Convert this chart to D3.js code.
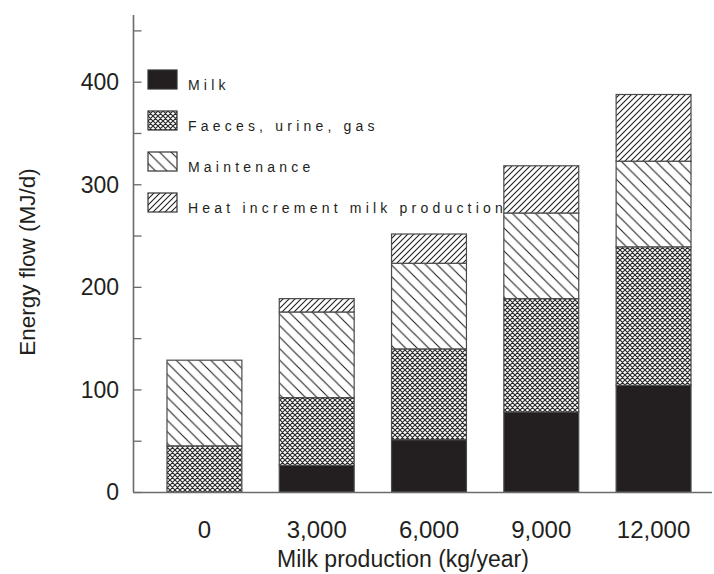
<!DOCTYPE html>
<html>
<head>
<meta charset="utf-8">
<script src="https://cdn.jsdelivr.net/npm/d3@7"></script>
<style>
  html, body { margin: 0; padding: 0; background: #fff; }
  svg { display: block; font-family: "Liberation Sans", Arial, sans-serif; }
</style>
</head>
<body>
<svg id="chart" width="714" height="574"></svg>
<script>
// Energy partition of a dairy cow by annual milk yield (MJ/d)
const categories = ["0", "3,000", "6,000", "9,000", "12,000"];
const milk        = [0, 26, 51, 78, 104];
const faeces      = [45, 66, 88.5, 110.5, 135];
const maintenance = [83.5, 83.5, 83.5, 83.5, 83.5];
const heat        = [0, 13, 28.5, 46, 65];
const yTicks      = [0, 100, 200, 300, 400];

const seriesNames = ["Milk", "Faeces, urine, gas", "Maintenance", "Heat increment milk production"];
const seriesKeys  = ["milk", "faeces", "maintenance", "heat"];
const seriesFill  = ["#231f20", "url(#pCross)", "url(#pBack)", "url(#pFwd)"];

const rows = categories.map((c, i) => ({
  cat: c, milk: milk[i], faeces: faeces[i], maintenance: maintenance[i], heat: heat[i]
}));

const svg = d3.select("#chart");
const axisColor = "#6b6b6b";
const inkColor = "#231f20";

// hatch patterns
const defs = svg.append("defs");
function hatch(id, P, dir, sw) {
  const p = defs.append("pattern").attr("id", id)
    .attr("patternUnits", "userSpaceOnUse").attr("width", P).attr("height", P);
  p.append("rect").attr("width", P).attr("height", P).attr("fill", "#fff");
  const d = dir === "back"
    ? `M0,0L${P},${P}M${-P/4},${3*P/4}L${P/4},${5*P/4}M${3*P/4},${-P/4}L${5*P/4},${P/4}`
    : `M0,${P}L${P},0M${-P/4},${P/4}L${P/4},${-P/4}M${3*P/4},${5*P/4}L${5*P/4},${3*P/4}`;
  p.append("path").attr("d", d).attr("stroke", inkColor).attr("stroke-width", sw).attr("fill", "none");
}
hatch("pBack", 11.5, "back", 1.1);
hatch("pFwd", 6, "fwd", 1.1);
(function () {
  const P = 5;
  const p = defs.append("pattern").attr("id", "pCross")
    .attr("patternUnits", "userSpaceOnUse").attr("width", P).attr("height", P);
  p.append("rect").attr("width", P).attr("height", P).attr("fill", "#fff");
  p.append("path")
    .attr("d", `M0,0L${P},${P}M${P},0L0,${P}M${-P/2},${P/2}L${P/2},${3*P/2}M${P/2},${-P/2}L${3*P/2},${P/2}M${P/2},${-P/2}L${-P/2},${P/2}M${3*P/2},${P/2}L${P/2},${3*P/2}`)
    .attr("stroke", "#2a2a2a").attr("stroke-width", 1.2).attr("fill", "none");
})();

// scales
const x = d3.scaleBand().domain(categories).range([133.3, 724.7])
  .paddingInner(0.333).paddingOuter(0.3);
const y = d3.scaleLinear().domain([0, 465]).range([492, 15]);

// stacked bars
const stack = d3.stack().keys(seriesKeys)(rows);
const layers = svg.append("g").selectAll("g").data(stack).join("g")
  .attr("fill", (d, i) => seriesFill[i]);
layers.selectAll("rect")
  .data(d => d.filter(s => s[1] - s[0] > 0))
  .join("rect")
  .attr("x", d => x(d.data.cat))
  .attr("width", x.bandwidth())
  .attr("y", d => y(d[1]))
  .attr("height", d => y(d[0]) - y(d[1]))
  .attr("stroke", "#4a4a4a")
  .attr("stroke-width", 1.2);

// y axis with inward ticks every 50
const yAxis = d3.axisRight(y).tickValues(d3.range(0, 451, 50)).tickSize(8).tickFormat("");
const gy = svg.append("g").attr("transform", "translate(133.5,0)").call(yAxis);
gy.select(".domain").remove();
gy.selectAll(".tick line").attr("stroke", axisColor).attr("stroke-width", 1.3);
svg.append("line").attr("x1", 133.5).attr("x2", 133.5).attr("y1", 15).attr("y2", 492)
  .attr("stroke", axisColor).attr("stroke-width", 1.6);

svg.append("g").selectAll("text").data(yTicks).join("text")
  .attr("x", 119).attr("y", d => y(d)).attr("dy", "0.36em")
  .attr("text-anchor", "end").attr("font-size", 23).attr("fill", inkColor)
  .text(d => d);

// x axis
svg.append("line").attr("x1", 133).attr("x2", 712).attr("y1", 492.5).attr("y2", 492.5)
  .attr("stroke", axisColor).attr("stroke-width", 1.6);
const xAxis = d3.axisBottom(x).tickSize(0).tickPadding(0);
const gx = svg.append("g").attr("transform", "translate(0,538)").call(xAxis);
gx.select(".domain").remove();
gx.selectAll(".tick text").attr("dy", 0).attr("font-size", 24)
  .attr("font-family", "Liberation Sans, Arial, sans-serif").attr("fill", inkColor);

// axis titles
svg.append("text").attr("x", 403).attr("y", 567).attr("text-anchor", "middle")
  .attr("font-size", 23).attr("fill", inkColor).text("Milk production (kg/year)");
svg.append("text").attr("transform", "translate(35,262) rotate(-90)")
  .attr("text-anchor", "middle").attr("font-size", 22.5).attr("fill", inkColor)
  .text("Energy flow (MJ/d)");

// legend
const legend = svg.append("g").selectAll("g").data(seriesNames).join("g")
  .attr("transform", (d, i) => `translate(148,${[70, 111, 152, 193][i]})`);
legend.append("rect").attr("width", 29).attr("height", 19)
  .attr("fill", (d, i) => seriesFill[i]).attr("stroke", "#333").attr("stroke-width", 1.2);
legend.append("text").attr("x", 40).attr("y", 19.5)
  .attr("font-size", 14).attr("letter-spacing", "4.2px").attr("fill", inkColor)
  .text(d => d);
</script>
</body>
</html>
